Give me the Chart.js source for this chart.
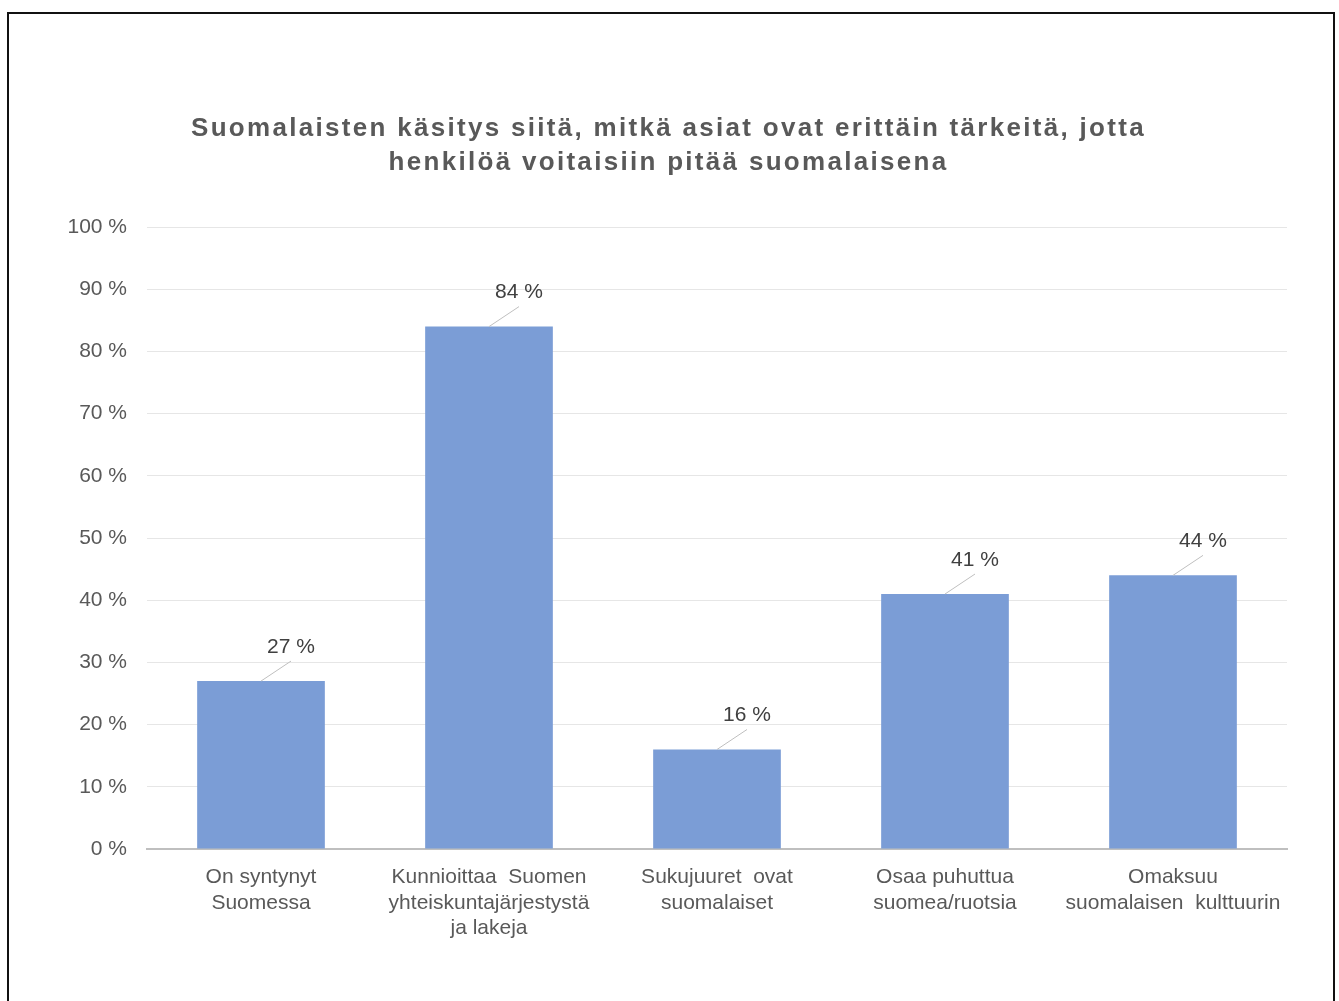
<!DOCTYPE html>
<html>
<head>
<meta charset="utf-8">
<script src="https://cdn.jsdelivr.net/npm/chart.js@4.4.0/dist/chart.umd.min.js"></script>
<style>
  html, body { margin: 0; padding: 0; background: #fff; overflow: hidden; }
  #wrap { position: relative; width: 1339px; height: 1001px; }
  #frame { position: absolute; left: 7px; top: 12px; width: 1324px; height: 1000px;
           border: 2px solid #111; border-bottom: none; pointer-events: none; }
</style>
</head>
<body>
<div id="wrap">
  <canvas id="myChart" width="1339" height="1001"></canvas>
  <div id="frame"></div>
</div>
<script>
const categories = [
    ['On syntynyt', 'Suomessa'],
    ['Kunnioittaa  Suomen', 'yhteiskuntajärjestystä', 'ja lakeja'],
    ['Sukujuuret  ovat', 'suomalaiset'],
    ['Osaa puhuttua', 'suomea/ruotsia'],
    ['Omaksuu', 'suomalaisen  kulttuurin']
];
const values = [27, 84, 16, 41, 44];
const titleLines = [
    'Suomalaisten käsitys siitä, mitkä asiat ovat erittäin tärkeitä, jotta',
    'henkilöä voitaisiin pitää suomalaisena'
];

const textColor = '#595959';
const fontFamily = '"Liberation Sans", Arial, sans-serif';

// data labels sit up and to the right of the bar, with a thin leader line
const calloutLabels = {
    id: 'calloutLabels',
    afterDatasetsDraw(chart) {
        const ctx = chart.ctx;
        const meta = chart.getDatasetMeta(0);
        ctx.save();
        meta.data.forEach((bar, i) => {
            const x = bar.x, y = bar.y;
            ctx.strokeStyle = '#bfbfbf';
            ctx.lineWidth = 1;
            ctx.beginPath();
            ctx.moveTo(x, y);
            ctx.lineTo(x + 30, y - 20);
            ctx.stroke();
            ctx.fillStyle = '#404040';
            ctx.font = '21px ' + fontFamily;
            ctx.textAlign = 'center';
            ctx.textBaseline = 'middle';
            ctx.fillText(values[i] + ' %', x + 30, y - 34);
        });
        ctx.restore();
    }
};

// title is spaced out and centred over the whole frame, like the original
const spacedTitle = {
    id: 'spacedTitle',
    afterLayout(chart) {
        const tb = chart.titleBlock;
        if (!tb) return;
        tb.left = 50;
        tb.right = 1287;
        if (!tb._spaced) {
            const orig = tb.draw;
            tb.draw = function () {
                const c = this.ctx;
                const prev = c.letterSpacing;
                c.letterSpacing = '2.3px';
                orig.call(this);
                c.letterSpacing = prev || '0px';
            };
            tb._spaced = true;
        }
    }
};

const ctx = document.getElementById('myChart');

let chart = new Chart(ctx, {
    type: 'bar',
    data: {
        labels: categories,
        datasets: [{
            data: values,
            backgroundColor: '#7b9dd6',
            categoryPercentage: 0.56,
            barPercentage: 1.0
        }]
    },
    options: {
        responsive: false,
        animation: false,
        layout: { padding: { left: 0, right: 52, top: 0, bottom: 0 } },
        plugins: {
            legend: { display: false },
            tooltip: { enabled: false },
            title: {
                display: true,
                text: titleLines,
                color: textColor,
                font: { family: fontFamily, size: 26, weight: 'bold', lineHeight: 1.31 },
                padding: { top: 112, bottom: 47 }
            }
        },
        scales: {
            x: {
                grid: { display: false },
                border: { color: '#bfbfbf', width: 2 },
                ticks: {
                    color: textColor,
                    font: { family: fontFamily, size: 21, lineHeight: 1.2 },
                    maxRotation: 0,
                    autoSkip: false,
                    padding: 8
                },
                afterFit(scale) { scale.height = 152; }
            },
            y: {
                min: 0,
                max: 100,
                ticks: {
                    stepSize: 10,
                    color: textColor,
                    font: { family: fontFamily, size: 21 },
                    padding: 20,
                    callback: v => v + ' %'
                },
                grid: { color: '#e6e6e6', lineWidth: 1, drawTicks: false },
                border: { display: false },
                afterFit(scale) { scale.width = 147; }
            }
        }
    },
    plugins: [calloutLabels, spacedTitle]
});
</script>
</body>
</html>
